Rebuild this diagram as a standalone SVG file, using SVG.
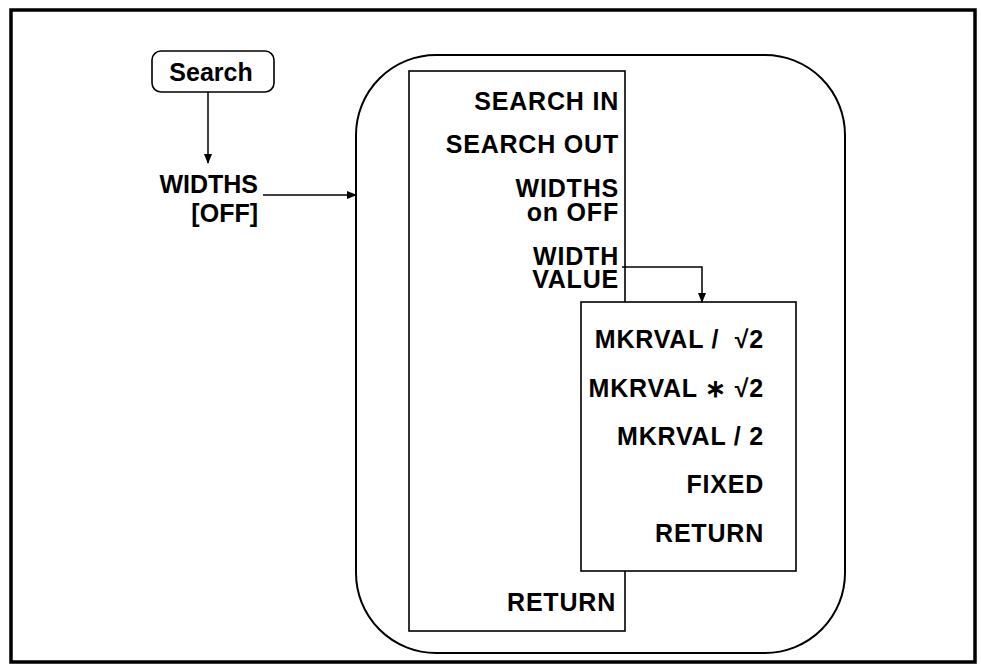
<svg xmlns="http://www.w3.org/2000/svg" width="981" height="667" viewBox="0 0 981 667">
<style>
.t{font-family:"Liberation Sans",Arial,sans-serif;font-weight:bold;font-size:25px;fill:#000;text-anchor:end;white-space:pre}
.m{letter-spacing:0.8px}
.box{fill:#fff;stroke:#000;stroke-width:1.6}
.ln{fill:none;stroke:#000;stroke-width:1.5}
</style>
<defs>
<marker id="ah" markerWidth="10" markerHeight="8" refX="9" refY="4" orient="auto" markerUnits="userSpaceOnUse">
<path d="M0,0 L10,4 L0,8 Z" fill="#000"/>
</marker>
</defs>
<rect width="981" height="667" fill="#fff"/>
<rect id="frame" x="11" y="10" width="964" height="652" fill="none" stroke="#000" stroke-width="3.5"/>
<g id="search">
<rect class="box" x="152" y="51" width="122" height="41" rx="9"/>
<text class="t" x="211" y="81" style="text-anchor:middle">Search</text>
</g>
<g id="widths">
<text class="t" x="258" y="193">WIDTHS<tspan x="258" dy="29">[OFF]</tspan></text>
</g>
<g id="menu">
<rect x="356" y="55" width="489" height="598" rx="80" ry="80" fill="none" stroke="#000" stroke-width="2"/>
<rect class="box" x="409" y="71" width="216" height="560"/>
<text class="t m" x="619" y="110">SEARCH IN</text>
<text class="t m" x="619" y="153">SEARCH OUT</text>
<text class="t m" x="619" y="197">WIDTHS<tspan x="619" dy="24">on OFF</tspan></text>
<text class="t m" x="619" y="265">WIDTH<tspan x="619" dy="23">VALUE</tspan></text>
<text class="t m" x="616" y="611">RETURN</text>
</g>
<g id="submenu">
<rect class="box" x="581" y="302" width="215" height="269"/>
<text class="t m" x="764" y="348" xml:space="preserve">MKRVAL /  √2</text>
<text class="t m" x="764" y="397">MKRVAL ∗ √2</text>
<text class="t m" x="764" y="445">MKRVAL / 2</text>
<text class="t m" x="764" y="493">FIXED</text>
<text class="t m" x="764" y="542">RETURN</text>
</g>
<g id="connectors">
<path class="ln" d="M208,92 V163" marker-end="url(#ah)"/>
<path class="ln" d="M263,195 H356" marker-end="url(#ah)"/>
<path class="ln" d="M622,267 H702 V302" marker-end="url(#ah)"/>
</g>
</svg>
